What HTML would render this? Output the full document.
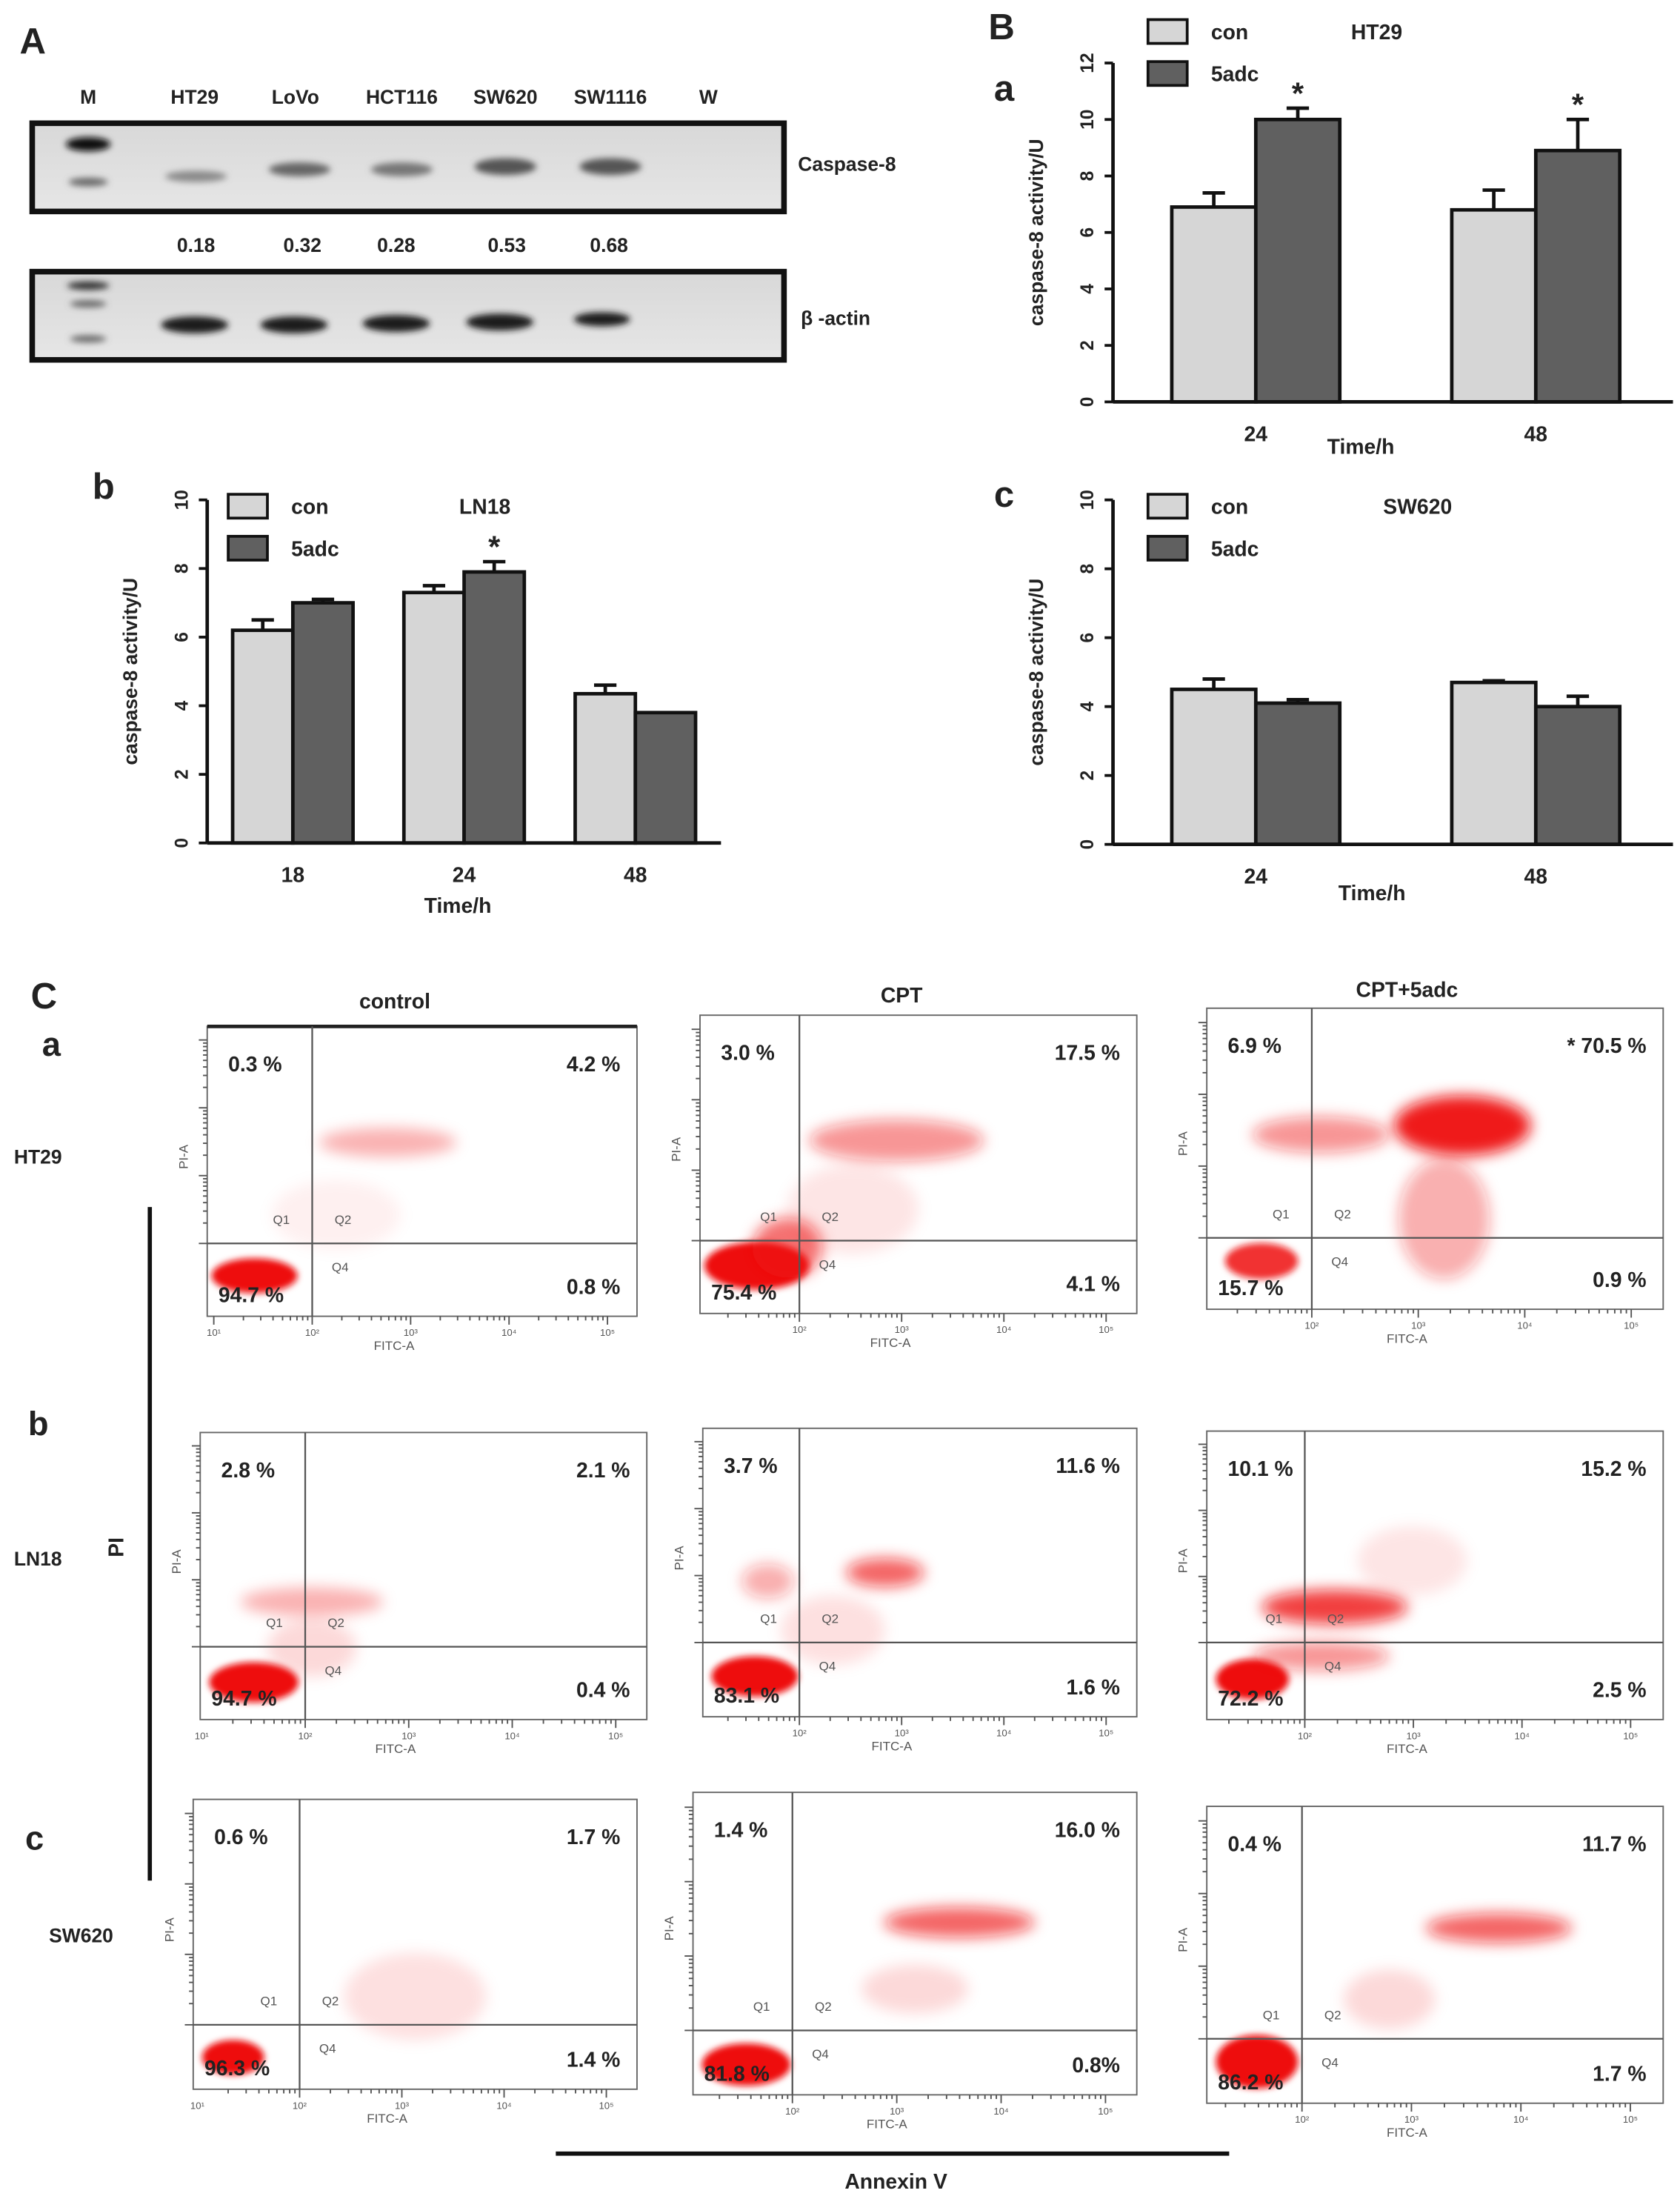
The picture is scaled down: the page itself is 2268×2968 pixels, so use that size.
<!DOCTYPE html>
<html><head><meta charset="utf-8"><style>
html,body{margin:0;padding:0;background:#fff;}
svg{display:block;font-family:"Liberation Sans",Arial,sans-serif;}
.t{font-weight:bold;fill:#222;}
</style></head><body>
<svg id="fig" width="2268" height="2968" viewBox="0 0 1200 1570.4" xmlns="http://www.w3.org/2000/svg">
<defs>
<filter id="blur" x="-50%" y="-50%" width="200%" height="200%"><feGaussianBlur stdDeviation="2.2"/></filter>
<filter id="blur2" x="-50%" y="-50%" width="200%" height="200%"><feGaussianBlur stdDeviation="5"/></filter>
<linearGradient id="gel" x1="0" y1="0" x2="0" y2="1"><stop offset="0" stop-color="#d8d8d8"/><stop offset="1" stop-color="#e6e6e6"/></linearGradient>
</defs>

<g>
<text class="t" x="14" y="38" font-size="26">A</text>
<g font-size="14" class="t" text-anchor="middle">
<text x="63" y="74">M</text><text x="139" y="74">HT29</text><text x="211" y="74">LoVo</text><text x="287" y="74">HCT116</text><text x="361" y="74">SW620</text><text x="436" y="74">SW1116</text><text x="506" y="74">W</text>
</g>
<rect x="23" y="88" width="537" height="63" fill="url(#gel)" stroke="#111" stroke-width="4"/>
<g fill="#333" filter="url(#blur)">
<ellipse cx="63" cy="103" rx="16" ry="5" fill="#111"/><ellipse cx="63" cy="130" rx="14" ry="3" fill="#666"/>
<ellipse cx="140" cy="126" rx="22" ry="4" fill="#8a8a8a"/><ellipse cx="214" cy="121" rx="22" ry="5" fill="#666"/>
<ellipse cx="287" cy="121" rx="22" ry="5" fill="#777"/><ellipse cx="361" cy="119" rx="22" ry="6" fill="#555"/>
<ellipse cx="436" cy="119" rx="22" ry="6" fill="#555"/>
</g>
<text class="t" x="570" y="122" font-size="14">Caspase-8</text>
<g font-size="14" class="t" text-anchor="middle">
<text x="140" y="180">0.18</text><text x="216" y="180">0.32</text><text x="283" y="180">0.28</text><text x="362" y="180">0.53</text><text x="435" y="180">0.68</text>
</g>
<rect x="23" y="194" width="537" height="63" fill="url(#gel)" stroke="#111" stroke-width="4"/>
<g filter="url(#blur)">
<ellipse cx="63" cy="204" rx="15" ry="3" fill="#333"/><ellipse cx="63" cy="217" rx="13" ry="2.5" fill="#666"/><ellipse cx="63" cy="242" rx="13" ry="2.5" fill="#666"/>
<ellipse cx="139" cy="232" rx="24" ry="6" fill="#1a1a1a"/><ellipse cx="210" cy="232" rx="24" ry="6" fill="#1a1a1a"/>
<ellipse cx="283" cy="231" rx="24" ry="6" fill="#1a1a1a"/><ellipse cx="357" cy="230" rx="24" ry="6" fill="#1a1a1a"/>
<ellipse cx="430" cy="228" rx="20" ry="5" fill="#1a1a1a"/>
</g>
<text class="t" x="572" y="232" font-size="14">β -actin</text>
</g>

<text class="t" x="706" y="28" font-size="26">B</text>
<g id="charts"></g>

<text class="t" x="22" y="720" font-size="26">C</text>
<g class="t" font-size="15" text-anchor="middle">
<text x="282" y="720">control</text><text x="644" y="716">CPT</text><text x="1005" y="712">CPT+5adc</text>
</g>
<g class="t">
<text x="30" y="754" font-size="24">a</text><text x="10" y="831" font-size="14">HT29</text>
<text x="20" y="1025" font-size="24">b</text><text x="10" y="1118" font-size="14">LN18</text>
<text x="18" y="1321" font-size="24">c</text><text x="35" y="1387" font-size="14">SW620</text>
</g>
<line x1="107" y1="862" x2="107" y2="1343" stroke="#111" stroke-width="3"/>
<text class="t" transform="translate(88,1105) rotate(-90)" font-size="15" text-anchor="middle">PI</text>
<line x1="397" y1="1538" x2="878" y2="1538" stroke="#111" stroke-width="3"/>
<text class="t" x="640" y="1563" font-size="15" text-anchor="middle">Annexin V</text>
<g id="flow"></g>
</svg>
<script>
var NS="http://www.w3.org/2000/svg";
function mk(tag,attrs,parent){var e=document.createElementNS(NS,tag);for(var k in attrs)e.setAttribute(k,attrs[k]);parent.appendChild(e);return e;}

var chartATitle="HT29", chartACats=["24","48"], chartACon=[6.9,6.8], chartAConErr=[7.4,7.5], chartA5adc=[10.0,8.9], chartA5adcErr=[10.4,10.0], chartAStar=[1,1];
var chartATicks=[0,2,4,6,8,10,12];
var chartBTitle="LN18", chartBCats=["18","24","48"], chartBCon=[6.2,7.3,4.35], chartBConErr=[6.5,7.5,4.6], chartB5adc=[7.0,7.9,3.8], chartB5adcErr=[7.1,8.2,3.8], chartBStar=[0,1,0];
var chartBTicks=[0,2,4,6,8,10];
var chartCTitle="SW620", chartCCats=["24","48"], chartCCon=[4.5,4.7], chartCConErr=[4.8,4.75], chartC5adc=[4.1,4.0], chartC5adcErr=[4.2,4.3], chartCStar=[0,0];
var chartCTicks=[0,2,4,6,8,10];

var charts=document.getElementById('charts');
function drawBar(o){
  var g=mk('g',{},charts);
  
  
  var ymax=o.ticks[o.ticks.length-1];
  function Y(v){return o.y0-(v/ymax)*(o.y0-o.ytop);}
  var n=o.cats.length, gw=(o.x1-o.x0)/n;
  for(var i=0;i<n;i++){
    var c=o.x0+gw*(i+0.5)+o.shift;
    var series=[[o.con,o.conErr,'#d6d6d6','con'],[o.adc,o.adcErr,'#606060','5adc']];
    for(var s=0;s<2;s++){
      var bx=s==0?c-o.bw:c, v=series[s][0][i], ev=series[s][1][i];
      var ex=bx+o.bw/2;
      var el=mk('line',{x1:ex,x2:ex,y1:Y(v),y2:Y(ev),stroke:'#111','stroke-width':2.5},g);
      
      
      mk('line',{x1:ex-8,x2:ex+8,y1:Y(ev),y2:Y(ev),stroke:'#111','stroke-width':2.5},g);
      var r=mk('rect',{x:bx,y:Y(v),width:o.bw,height:o.y0-Y(v),fill:series[s][2],stroke:'#111','stroke-width':2.5},g);
      
      
    }
    if(o.star[i]){var st=mk('text',{x:c+o.bw/2,y:Y(o.adcErr[i])-3,'font-size':22,'text-anchor':'middle','class':'t'},g);st.textContent='*';
      
      }
    var tl=mk('text',{x:c,y:o.y0+28,'font-size':15,'text-anchor':'middle','class':'t'},g);tl.textContent=o.cats[i];
    
    
  }
  mk('line',{x1:o.xa,x2:o.xa,y1:o.ytop,y2:o.y0,stroke:'#111','stroke-width':2.5},g);
  mk('line',{x1:o.xa,x2:o.x1,y1:o.y0,y2:o.y0,stroke:'#111','stroke-width':2.5},g);
  for(var t=0;t<o.ticks.length;t++){
    var yy=Y(o.ticks[t]);
    mk('line',{x1:o.xa-6,x2:o.xa,y1:yy,y2:yy,stroke:'#111','stroke-width':2},g);
    var tt=mk('text',{transform:'translate('+(o.xa-14)+','+yy+') rotate(-90)','font-size':13,'text-anchor':'middle','class':'t'},g);
    tt.textContent=o.ticks[t];
    
    
  }
  var yl=mk('text',{transform:'translate('+(o.xa-50)+','+((o.y0+o.ytop)/2)+') rotate(-90)','font-size':14,'text-anchor':'middle','class':'t'},g);
  yl.textContent='caspase-8 activity/U';
  
  
  var xl=mk('text',{x:o.timeX,y:o.timeY,'font-size':15,'text-anchor':'middle','class':'t'},g);
  xl.textContent='Time/h';
  
  
  var lg=mk('g',{},g);
  
  
  mk('rect',{x:o.lx,y:o.ly,width:28,height:17,fill:'#d6d6d6',stroke:'#111','stroke-width':2},lg);
  mk('rect',{x:o.lx,y:o.ly+30,width:28,height:17,fill:'#606060',stroke:'#111','stroke-width':2},lg);
  var a=mk('text',{x:o.lx+45,y:o.ly+14,'font-size':15,'class':'t'},lg);a.textContent='con';
  var b=mk('text',{x:o.lx+45,y:o.ly+44,'font-size':15,'class':'t'},lg);b.textContent='5adc';
  var ti=mk('text',{x:o.titleX,y:o.ly+14,'font-size':15,'class':'t'},lg);ti.textContent=o.title;
  
  
  var pl=mk('text',{x:o.plx,y:o.ply,'font-size':26,'class':'t'},g);pl.textContent=o.letter;
  
  
}
drawBar({name:'chart-b-a-ht29',cats:chartACats,con:chartACon,conErr:chartAConErr,adc:chartA5adc,adcErr:chartA5adcErr,star:chartAStar,ticks:chartATicks,title:chartATitle,
  xa:795,x0:795,x1:1195,y0:287,ytop:45,bw:60,shift:2,timeX:972,timeY:324,lx:820,ly:14,titleX:965,letter:'a',plx:710,ply:72});
drawBar({name:'chart-b-b-ln18',cats:chartBCats,con:chartBCon,conErr:chartBConErr,adc:chartB5adc,adcErr:chartB5adcErr,star:chartBStar,ticks:chartBTicks,title:chartBTitle,
  xa:148,x0:148,x1:515,y0:602,ytop:357,bw:43,shift:0,timeX:327,timeY:652,lx:163,ly:353,titleX:328,letter:'b',plx:66,ply:356});
drawBar({name:'chart-b-c-sw620',cats:chartCCats,con:chartCCon,conErr:chartCConErr,adc:chartC5adc,adcErr:chartC5adcErr,star:chartCStar,ticks:chartCTicks,title:chartCTitle,
  xa:795,x0:795,x1:1195,y0:603,ytop:357,bw:60,shift:2,timeX:980,timeY:643,lx:820,ly:353,titleX:988,letter:'c',plx:710,ply:362});

var flowRows=["HT29","LN18","SW620"], flowCols=["control","CPT","CPT+5adc"];
var flowQ1=[[0.3,3.0,6.9],[2.8,3.7,10.1],[0.6,1.4,0.4]];
var flowQ2=[[4.2,17.5,70.5],[2.1,11.6,15.2],[1.7,16.0,11.7]];
var flowQ3=[[94.7,75.4,15.7],[94.7,83.1,72.2],[96.3,81.8,86.2]];
var flowQ4=[[0.8,4.1,0.9],[0.4,1.6,2.5],[1.4,0.8,1.7]];
var boxes=[[[148,733,455,940,223,888],[500,725,812,938,571,886],[862,720,1188,935,937,884]],
           [[143,1023,462,1228,218,1176],[502,1020,812,1226,571,1173],[862,1022,1188,1228,932,1173]],
           [[138,1285,455,1492,214,1446],[495,1280,812,1496,566,1450],[862,1290,1188,1502,930,1456]]];
var clouds=[[[[0.11,0.86,0.1,0.06,1],[0.42,0.4,0.16,0.05,0.3],[0.3,0.65,0.15,0.12,0.06]],
             [[0.13,0.84,0.12,0.08,1],[0.2,0.78,0.08,0.1,0.6],[0.45,0.42,0.2,0.07,0.45],[0.35,0.65,0.15,0.15,0.1]],
             [[0.12,0.84,0.08,0.06,0.85],[0.56,0.39,0.15,0.1,0.95],[0.25,0.42,0.15,0.06,0.45],[0.52,0.7,0.1,0.2,0.35]]],
            [[[0.12,0.87,0.1,0.07,1],[0.25,0.59,0.16,0.05,0.3],[0.25,0.75,0.1,0.1,0.15]],
             [[0.12,0.86,0.1,0.07,1],[0.15,0.53,0.06,0.06,0.35],[0.42,0.5,0.09,0.05,0.65],[0.3,0.7,0.12,0.12,0.12]],
             [[0.1,0.86,0.08,0.07,1],[0.28,0.61,0.16,0.06,0.8],[0.25,0.78,0.15,0.05,0.45],[0.45,0.45,0.12,0.12,0.1]]],
            [[[0.09,0.89,0.07,0.06,1],[0.5,0.68,0.16,0.15,0.12]],
             [[0.12,0.9,0.1,0.07,1],[0.6,0.43,0.17,0.05,0.65],[0.5,0.65,0.12,0.08,0.15]],
             [[0.11,0.86,0.09,0.09,1],[0.64,0.41,0.16,0.05,0.65],[0.4,0.65,0.1,0.1,0.15]]]];
var flow=document.getElementById('flow');
for(var r=0;r<3;r++)for(var c=0;c<3;c++){
  var b=boxes[r][c], x0=b[0],y0=b[1],x1=b[2],y1=b[3],vx=b[4],hy=b[5], w=x1-x0,h=y1-y0;
  var g=mk('g',{},flow);
  
  
  var cl=clouds[r][c];
  for(var k=0;k<cl.length;k++){
    var e=mk('ellipse',{cx:x0+cl[k][0]*w,cy:y0+cl[k][1]*h,rx:cl[k][2]*w,ry:cl[k][3]*h,fill:'#ee1111','fill-opacity':cl[k][4],filter:k==0?'url(#blur)':'url(#blur2)'},g);
    
    
  }
  mk('rect',{x:x0,y:y0,width:w,height:h,fill:'none',stroke:'#666','stroke-width':1},g);
  if(r==0&&c==0)mk('line',{x1:x0,x2:x1,y1:y0,y2:y0,stroke:'#222','stroke-width':2.5},g);
  mk('line',{x1:vx,x2:vx,y1:y0,y2:y1,stroke:'#555','stroke-width':1.2},g);
  mk('line',{x1:x0,x2:x1,y1:hy,y2:hy,stroke:'#555','stroke-width':1.2},g);
  var dec=(x1-vx)/3.3;
  for(var d=-1;d<4;d++){for(var m2=1;m2<10;m2++){var tx=vx+d*dec+Math.log10(m2)*dec;if(tx<x0+3||tx>x1-3)continue;
    mk('line',{x1:tx,x2:tx,y1:y1,y2:y1+(m2==1?6:3),stroke:'#555','stroke-width':1},g);}
    if(vx+d*dec>x0){var lb=mk('text',{x:vx+d*dec,y:y1+14,'font-size':7,fill:'#555','text-anchor':'middle'},g);lb.textContent='10'+['¹','²','³','⁴','⁵'][d+1];}}
  var ddec=(hy-y0)/3.2;
  for(var d2=0;d2<4;d2++){for(var m3=1;m3<10;m3++){var ty=hy-d2*ddec-Math.log10(m3)*ddec;if(ty<y0+3)continue;
    mk('line',{x1:x0-(m3==1?6:3),x2:x0,y1:ty,y2:ty,stroke:'#555','stroke-width':1},g);}}
  var f=mk('text',{x:(x0+x1)/2-20,y:y1+24,'font-size':9,fill:'#555','text-anchor':'middle'},g);f.textContent='FITC-A';
  var p=mk('text',{transform:'translate('+(x0-14)+','+(y0+h*0.45)+') rotate(-90)','font-size':9,fill:'#555','text-anchor':'middle'},g);p.textContent='PI-A';
  var ql=[['Q1',vx-22,hy-14],['Q2',vx+22,hy-14],['Q4',vx+20,hy+20]];
  for(var q=0;q<3;q++){var qt=mk('text',{x:ql[q][1],y:ql[q][2],'font-size':9,fill:'#555','text-anchor':'middle'},g);qt.textContent=ql[q][0];}
  var vals=[[flowQ1[r][c],x0+15,y0+32,'start'],[flowQ2[r][c],x1-12,y0+32,'end'],[flowQ3[r][c],x0+8,y1-10,'start'],[flowQ4[r][c],x1-12,y1-16,'end']];
  for(var m=0;m<4;m++){
    var s=(r==2&&c==1&&m==3)?vals[m][0].toFixed(1)+'%':vals[m][0].toFixed(1)+' %';
    if(r==0&&c==2&&m==1)s='*  '+s;
    var pt=mk('text',{x:vals[m][1],y:vals[m][2],'font-size':15,'text-anchor':vals[m][3],'class':'t'},g);pt.textContent=s;
    
    
  }
}
</script>
</body></html>
